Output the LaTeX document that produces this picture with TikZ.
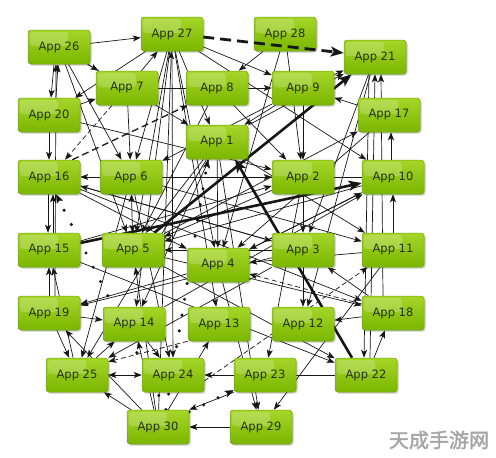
\documentclass[tikz,border=0pt]{standalone}
\usepackage{fontspec}
\newfontfamily\appfont{DejaVu Sans}
\newfontfamily\cjkfont[FakeBold=2]{Noto Sans CJK SC}
\usetikzlibrary{arrows.meta,shadows,backgrounds}
\definecolor{boxtop}{RGB}{165,214,40}
\definecolor{boxbot}{RGB}{122,182,0}
\definecolor{boxline}{RGB}{112,165,8}
\definecolor{apptext}{RGB}{38,48,22}
\definecolor{edgecol}{RGB}{22,22,22}
\tikzset{
  app/.style={draw=boxline, line width=0.5pt, rounded corners=3pt,
    top color=boxtop, bottom color=boxbot,
    minimum width=62pt, minimum height=34pt, inner sep=0pt,
    font=\appfont\fontsize{11.5}{13}\selectfont, text=apptext,
    drop shadow={shadow xshift=1.5pt, shadow yshift=-1.5pt, opacity=0.3, fill=black!70},
    path picture={\fill[white, opacity=0.2, rounded corners=3pt]
      ([xshift=2pt,yshift=-2pt]path picture bounding box.north west) rectangle
      ([xshift=-22pt,yshift=1pt]path picture bounding box.east);}},
  ed/.style={draw=edgecol, line width=0.7pt, -{Stealth[length=8pt,width=6pt,inset=2pt]}},
  both/.style={draw=edgecol, line width=0.7pt, {Stealth[length=8pt,width=6pt,inset=2pt]}-{Stealth[length=8pt,width=6pt,inset=2pt]}},
  dsh/.style={ed, dash pattern=on 5pt off 3pt},
  dshthick/.style={ed, line width=1.3pt, dash pattern=on 7pt off 4pt},
  dotedge/.style={draw=edgecol, line width=3.4pt, line cap=round, dash pattern=on 0pt off 16pt,
    -{Stealth[length=9pt,width=7pt,inset=2pt,line width=0.4pt]}},
  thk/.style={draw=edgecol, line width=2.6pt, -{Stealth[length=13pt,width=10pt,inset=3pt]}},
  thkdash/.style={draw=edgecol, line width=2.8pt, dash pattern=on 11pt off 6pt,
    -{Stealth[length=13pt,width=10pt,inset=3pt]}}
}
\begin{document}
\begin{tikzpicture}[x=1pt,y=-1pt]
\useasboundingbox (0,0) rectangle (496,458);
% nodes
\node[app] (n26) at (59,47) {App 26};
\node[app] (n27) at (172,34) {App 27};
\node[app] (n28) at (285,34) {App 28};
\node[app] (n21) at (375,57) {App 21};
\node[app] (n7) at (127,88) {App 7};
\node[app] (n8) at (217,88) {App 8};
\node[app] (n9) at (303,88) {App 9};
\node[app] (n20) at (49,115) {App 20};
\node[app] (n17) at (389,115) {App 17};
\node[app] (n1) at (217,142) {App 1};
\node[app] (n16) at (49,177) {App 16};
\node[app] (n6) at (131,177) {App 6};
\node[app] (n2) at (303,177) {App 2};
\node[app] (n10) at (393,177) {App 10};
\node[app] (n15) at (49,250) {App 15};
\node[app] (n5) at (133,250) {App 5};
\node[app] (n4) at (218,265) {App 4};
\node[app] (n3) at (303,250) {App 3};
\node[app] (n11) at (393,250) {App 11};
\node[app] (n19) at (49,313) {App 19};
\node[app] (n14) at (134,324) {App 14};
\node[app] (n13) at (219,324) {App 13};
\node[app] (n12) at (303,324) {App 12};
\node[app] (n18) at (393,313) {App 18};
\node[app] (n25) at (77,375) {App 25};
\node[app] (n24) at (173,375) {App 24};
\node[app] (n23) at (265,375) {App 23};
\node[app] (n22) at (366,375) {App 22};
\node[app] (n30) at (158,427) {App 30};
\node[app] (n29) at (261,427) {App 29};
\node[font=\cjkfont\fontsize{20}{20}\selectfont, text=black!35] (wm) at (439,440) {天成手游网};

\begin{pgfonlayer}{background}
\fill[white] (0,0) rectangle (496,458);
\foreach \a/\b in {26/27, 27/20, 7/27, 26/7, 26/1, 26/6, 26/5, 20/7, 20/16, 20/2, 7/9, 7/6,
  27/6, 27/5, 30/27, 27/4, 27/1, 27/13, 27/10, 27/9, 27/24, 27/14,
  28/8, 28/2, 28/4, 9/2, 17/9, 8/2, 9/1, 9/6, 8/5, 1/25, 6/25,
  9/21, 21/3, 21/12, 1/21, 11/10, 5/17, 17/4, 10/16, 16/4, 16/3, 6/11, 1/11,
  4/10, 14/10, 2/3, 3/12, 15/2, 6/2, 11/4, 10/4, 10/5, 1/5, 1/4, 1/14, 2/5, 3/5,
  3/16, 3/19, 3/25, 4/19, 19/15, 25/15, 19/14, 30/19, 19/25, 25/14, 22/24,
  30/14, 30/5, 30/13, 14/24, 29/30, 11/29, 18/12, 4/29, 1/29, 2/23, 15/22, 5/22,
  16/18, 5/18, 18/3, 30/25, 6/24}
  \draw[ed] (n\a) -- (n\b);
% paired and offset connectors
\draw[ed] ([xshift=-5pt]n26.south) -- ([xshift=2pt]n20.north);
\draw[ed] ([xshift=7pt]n20.north) -- ([xshift=-1pt]n26.south);
\draw[ed] ([xshift=6pt]n19.north) -- ([xshift=-3pt]n26.south);
\draw[ed] ([xshift=-1pt]n16.south) -- ([xshift=-1pt]n15.north);
\draw[ed] ([xshift=4pt]n15.north) -- ([xshift=4pt]n16.south);
\draw[both] (n5) -- (n6);
\draw[both] (n25) -- (n24);
\draw[ed] ([xshift=4pt]n22.north) -- (n21.south);
\draw[ed] ([xshift=-6pt]n21.south) -- ([xshift=-2pt]n22.north);
\draw[ed] ([xshift=-10pt]n18.north) -- ([xshift=6pt]n21.south);
\draw[ed] ([xshift=8pt]n22.north) -- ([xshift=-8pt]n18.south);
\draw[ed] ([xshift=-2pt]n10.north) -- ([xshift=2pt]n17.south);
\draw[ed] (n23.south west) -- (n30.north east);
% dashed
\draw[dsh] ([xshift=-15pt]n7.south) -- ([xshift=16pt]n16.north);
\draw[dshthick] ([xshift=-8pt]n16.north east) -- ([xshift=2pt]n8.south west);
\draw[dsh] ([yshift=9pt]n18.west) -- ([yshift=-9pt]n4.east);
\draw[dsh] ([yshift=-6pt]n24.east) -- ([xshift=6pt]n11.south west);
\draw[dsh] (n13.south west) -- ([yshift=-4pt]n25.north east);
% dotted
\draw[dotedge] ([xshift=8pt]n30.north) -- ([xshift=7pt]n16.south);
\draw[dotedge] ([xshift=8pt]n30.north) -- ([xshift=-9pt]n1.south);
\draw[dotedge] (n30) -- (n23);
% thick
\draw[thk] ([yshift=7pt]n15.east) -- ([yshift=-6pt]n10.west);
\draw[thk] ([xshift=-10pt]n5.north east) -- ([xshift=8pt]n21.south west);
\draw[thk] ([xshift=-14pt]n22.north) -- ([xshift=18pt]n1.south);
\end{pgfonlayer}
% drawn over App 28
\draw[thkdash] ([yshift=-3pt]n27.east) -- ([yshift=4pt]n21.west);
\end{tikzpicture}
\end{document}
